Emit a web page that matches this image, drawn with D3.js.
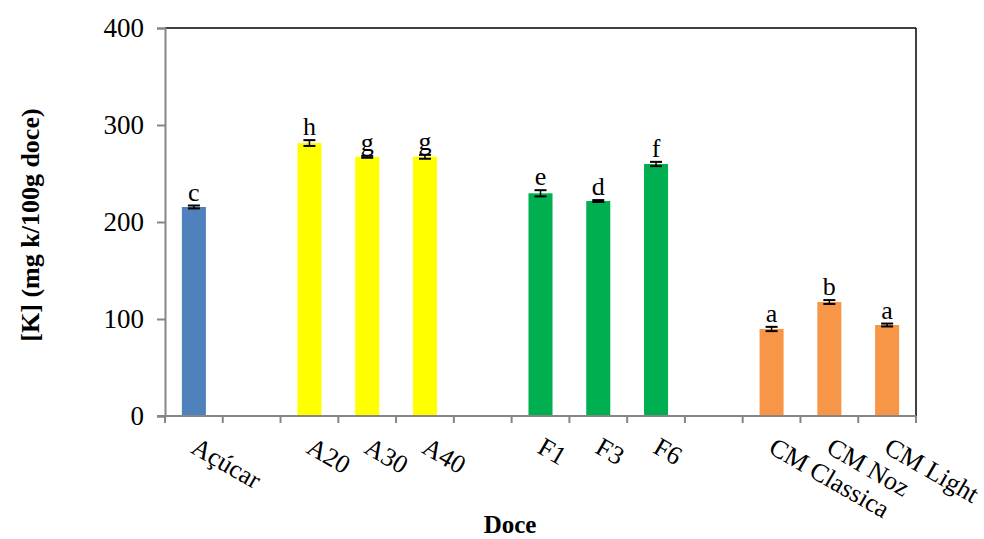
<!DOCTYPE html>
<html>
<head>
  <meta charset="utf-8">
  <script src="https://d3js.org/d3.v7.min.js"></script>
  <style>
    body { margin: 0; background: #fff; }
    text { font-family: "Liberation Serif", "Times New Roman", serif; fill: #000; }
    .tick text { font-size: 27px; }
  </style>
</head>
<body>
<svg id="chart" width="984" height="539"></svg>
<script>
  // categories ("" = empty slot between groups)
  const categories = ["Açúcar", "", "A20", "A30", "A40", "", "F1", "F3", "F6", "", "CM Classica", "CM Noz", "CM Light"];
  const values = [215.5, null, 281.4, 267.2, 267.2, null, 229.6, 221.6, 259.8, null, 89.7, 117.5, 93.8];
  const errors = [1.5, null, 3, 1, 2, null, 3.2, 1, 2.2, null, 2.2, 2, 1.5];
  const letters = ["c", "", "h", "g", "g", "", "e", "d", "f", "", "a", "b", "a"];
  const colors = ["#4F81BD", null, "#FFFF00", "#FFFF00", "#FFFF00", null, "#00B050", "#00B050", "#00B050", null, "#F79646", "#F79646", "#F79646"];
  const yTicks = [0, 100, 200, 300, 400];

  const svg = d3.select("#chart");
  const margin = { top: 28, right: 68, bottom: 123, left: 165 };
  const width = 984 - margin.left - margin.right;
  const height = 539 - margin.top - margin.bottom;
  const g = svg.append("g").attr("transform", "translate(" + margin.left + "," + margin.top + ")");

  const x = d3.scaleBand().domain(d3.range(categories.length)).range([0, width]).paddingInner(0.584).paddingOuter(0.292);
  const slot = d3.scaleLinear().domain([0, categories.length]).range([0, width]);
  const y = d3.scaleLinear().domain([0, 400]).range([height, 0]);

  // frame top / right
  g.append("line").attr("x1", 0).attr("x2", width).attr("y1", 0).attr("y2", 0).attr("stroke", "#000").attr("stroke-width", 1.5);
  g.append("line").attr("x1", width).attr("x2", width).attr("y1", 0).attr("y2", height).attr("stroke", "#000").attr("stroke-width", 1.5);

  const data = categories.map((c, i) => ({ i, c, v: values[i], e: errors[i], l: letters[i], col: colors[i] })).filter(d => d.v != null);

  g.selectAll("rect.bar").data(data).join("rect")
    .attr("class", "bar")
    .attr("x", d => x(d.i))
    .attr("width", x.bandwidth())
    .attr("y", d => y(d.v))
    .attr("height", d => height - y(d.v))
    .attr("fill", d => d.col);

  const eb = g.selectAll("g.err").data(data).join("g").attr("class", "err")
    .attr("transform", d => "translate(" + (x(d.i) + x.bandwidth() / 2) + ",0)");
  eb.append("line").attr("y1", d => y(d.v - d.e)).attr("y2", d => y(d.v + d.e)).attr("stroke", "#000").attr("stroke-width", 1.5);
  eb.append("line").attr("x1", -6).attr("x2", 6).attr("y1", d => y(d.v + d.e)).attr("y2", d => y(d.v + d.e)).attr("stroke", "#000").attr("stroke-width", 2);
  eb.append("line").attr("x1", -6).attr("x2", 6).attr("y1", d => y(d.v - d.e)).attr("y2", d => y(d.v - d.e)).attr("stroke", "#000").attr("stroke-width", 2);
  eb.append("text")
    .attr("y", d => y(d.v + d.e) - 5)
    .attr("text-anchor", "middle")
    .style("font-size", "26px")
    .text(d => d.l);

  // y axis
  const yAxis = g.append("g").call(d3.axisLeft(y).tickValues(yTicks).tickSize(8).tickPadding(13));
  yAxis.selectAll("path, line").attr("stroke", "#868686").attr("stroke-width", 2);

  // x axis with boundary ticks
  const xAxis = g.append("g").attr("transform", "translate(0," + height + ")");
  xAxis.append("line").attr("x1", -8).attr("x2", width).attr("stroke", "#868686").attr("stroke-width", 2);
  xAxis.selectAll("line.tk").data(d3.range(categories.length + 1)).join("line")
    .attr("class", "tk")
    .attr("x1", d => slot(d)).attr("x2", d => slot(d))
    .attr("y1", 0).attr("y2", 7)
    .attr("stroke", "#868686").attr("stroke-width", 2);
  xAxis.selectAll("text.lbl").data(data).join("text")
    .attr("class", "lbl")
    .attr("transform", d => "translate(" + (x(d.i) + x.bandwidth() / 2 + 6) + ",18) rotate(30)")
    .attr("dy", "0.8em")
    .style("font-size", "26px")
    .text(d => d.c);

  svg.append("text").attr("x", 510).attr("y", 533)
    .attr("text-anchor", "middle").style("font-size", "25px").style("font-weight", "bold").text("Doce");
  svg.append("text").attr("transform", "translate(30,225) rotate(-90)")
    .attr("text-anchor", "middle").attr("dy", "0.35em").style("font-size", "26px").style("font-weight", "bold").text("[K] (mg k/100g doce)");
</script>
</body>
</html>
